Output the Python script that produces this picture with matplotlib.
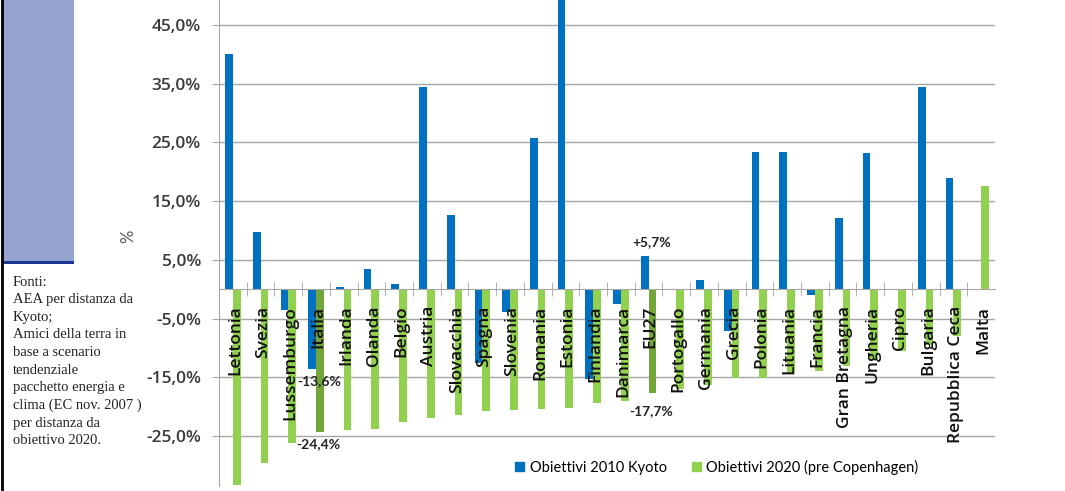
import matplotlib
matplotlib.use("Agg")
import matplotlib.pyplot as plt
from matplotlib.patches import Rectangle, Patch
from matplotlib.ticker import FixedLocator, FuncFormatter

paesi = ["Lettonia", "Svezia", "Lussemburgo", "Italia", "Irlanda", "Olanda", "Belgio",
         "Austria", "Slovacchia", "Spagna", "Slovenia", "Romania", "Estonia", "Finlandia",
         "Danimarca", "EU27", "Portogallo", "Germania", "Grecia", "Polonia", "Lituania",
         "Francia", "Gran Bretagna", "Ungheria", "Cipro", "Bulgaria", "Repubblica Ceca", "Malta"]

kyoto_2010 = [40.0, 9.8, -3.5, -13.6, 0.3, 3.5, 0.9, 34.5, 12.7, -12.6, -3.8, 25.7, 52.0,
              -15.3, -2.5, 5.7, -0.2, 1.5, -7.2, 23.4, 23.4, -1.0, 12.1, 23.2, 0.0, 34.4,
              18.9, 0.0]

obiettivi_2020 = [-33.4, -29.6, -26.2, -24.4, -24.0, -23.8, -22.6, -22.0, -21.4, -20.7,
                  -20.6, -20.4, -20.2, -19.3, -19.0, -17.7, -17.0, -16.4, -15.2, -15.2,
                  -14.4, -14.0, -13.0, -12.0, -10.5, -9.5, -8.0, 17.5]

# highlighted groups and their value labels
evidenziati = ["Italia", "EU27"]
etichette = [("Italia", kyoto_2010[3], "-13,6%", -15.6),
             ("Italia", obiettivi_2020[3], "-24,4%", -26.4),
             ("EU27", kyoto_2010[15], "+5,7%", 8.1),
             ("EU27", obiettivi_2020[15], "-17,7%", -20.8)]

blu = "#0070C0"
verde = "#92D050"
verde_scuro = "#73A53A"
grigio = "#A6A6A6"

fig = plt.figure(figsize=(10.65, 4.91), dpi=100)
ax = fig.add_axes([219 / 1065, 5 / 491, 776 / 1065, 486 / 491])

x = list(range(len(paesi)))
w = 0.28
col_verde = [verde_scuro if p in evidenziati else verde for p in paesi]
ax.bar([i - w / 2 for i in x], kyoto_2010, width=w, color=blu, zorder=3)
ax.bar([i + w / 2 for i in x], obiettivi_2020, width=w, color=col_verde, zorder=3)

ax.set_xlim(-0.5, len(paesi) - 0.5)
ax.set_ylim(-33.52, 49.26)

yt = [45, 35, 25, 15, 5, -5, -15, -25]
ax.yaxis.set_major_locator(FixedLocator(yt))
ax.yaxis.set_major_formatter(FuncFormatter(lambda v, p: f"{v:.1f}%".replace(".", ",")))
ax.grid(axis="y", color=grigio, linewidth=1.0, zorder=0)
ax.tick_params(axis="y", length=5, color=grigio, pad=8, labelsize=12.5, labelcolor="#3a3a3a")
for t in ax.get_yticklabels():
    t.set_fontfamily("Open Sans")
    t.set_fontweight("semibold")

# category axis on the zero line
for s in ["top", "right"]:
    ax.spines[s].set_visible(False)
ax.spines["left"].set_color(grigio)
ax.spines["bottom"].set_color(grigio)
ax.spines["bottom"].set_position(("data", 0))
ax.spines["bottom"].set_zorder(4)
ax.set_xticks(x)
ax.set_xticklabels([])
ax.set_xticks([i + 0.5 for i in x[:-1]], minor=True)
ax.tick_params(axis="x", which="major", length=0)
ax.tick_params(axis="x", which="minor", length=10, direction="inout", color=grigio)

# country names drawn over the bars
for i, p in zip(x, paesi):
    ax.text(i + 0.08, -2.8, p, rotation=90, ha="center", va="top", fontsize=12.5,
            fontfamily="Open Sans", fontweight="semibold", color="#111111", zorder=6)

fig.text(128 / 1065, 1 - 236 / 491, "%", rotation=90, ha="center", va="center",
         fontsize=12, color="#555555", fontfamily="Lato")

for paese, val, testo, ypos in etichette:
    i = paesi.index(paese)
    ax.text(i + 0.1, ypos, testo, ha="center", va="center", fontsize=10,
            fontweight="bold", fontfamily="Lato", color="#222222", zorder=7)

ax.legend(handles=[Patch(color=blu, label="Obiettivi 2010 Kyoto"),
                   Patch(color=verde, label="Obiettivi 2020 (pre Copenhagen)")],
          ncol=2, frameon=False, loc="center", bbox_to_anchor=(717 / 1065, 24 / 491),
          bbox_transform=fig.transFigure, handlelength=0.6, handleheight=0.6,
          handletextpad=0.4, columnspacing=1.7,
          prop={"family": "Lato", "size": 10.5})

# left side panel with sources
fig.patches.append(Rectangle((3 / 1065, 229 / 491), 71 / 1065, 262 / 491,
                             transform=fig.transFigure, facecolor="#95A3CF",
                             edgecolor="none"))
fig.patches.append(Rectangle((3 / 1065, 227 / 491), 71 / 1065, 3 / 491,
                             transform=fig.transFigure, facecolor="#1B3694",
                             edgecolor="none"))
fig.add_artist(plt.Line2D([1.5 / 1065, 1.5 / 1065], [0, 1], transform=fig.transFigure,
                          color="black", linewidth=2))

fonti = ("Fonti:\nAEA per distanza da\nKyoto;\nAmici della terra in\nbase a scenario\n"
         "tendenziale\npacchetto energia e\nclima (EC nov. 2007 )\nper distanza da\n"
         "obiettivo 2020.")
fig.text(13 / 1065, 1 - 276 / 491, fonti, ha="left", va="top", fontsize=10.5,
         fontfamily="Liberation Serif", color="#222222", linespacing=1.45)

fig.savefig("out.png", dpi=100)
